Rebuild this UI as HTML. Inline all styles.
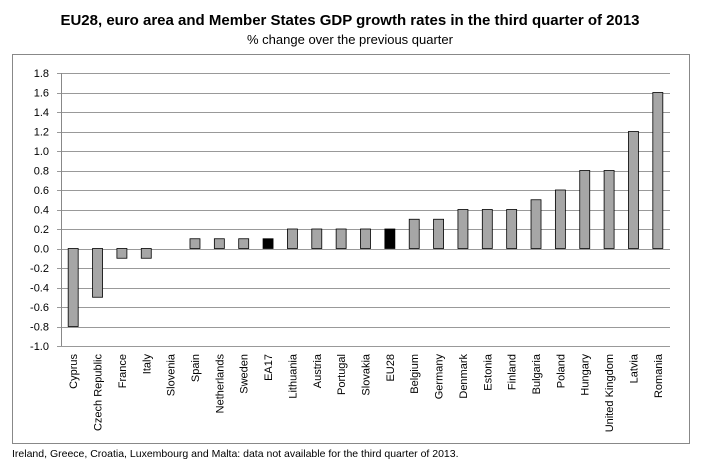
<!DOCTYPE html>
<html><head><meta charset="utf-8"><style>
body{margin:0;background:#fff;font-family:"Liberation Sans",sans-serif;}
</style></head><body>
<svg width="701" height="468" xmlns="http://www.w3.org/2000/svg">
<text x="350" y="25" text-anchor="middle" font-size="15" font-weight="bold">EU28, euro area and Member States GDP growth rates in the third quarter of 2013</text>
<text x="350" y="44" text-anchor="middle" font-size="13">% change over the previous quarter</text>
<rect x="12.5" y="54.5" width="677" height="389" fill="none" stroke="#888"/>
<g id="grid"></g><g id="bars"></g><g id="labels"></g>
<text x="12" y="457" font-size="10.5">Ireland, Greece, Croatia, Luxembourg and Malta: data not available for the third quarter of 2013.</text>
</svg>
<script>
const categories=["Cyprus","Czech Republic","France","Italy","Slovenia","Spain","Netherlands","Sweden","EA17","Lithuania","Austria","Portugal","Slovakia","EU28","Belgium","Germany","Denmark","Estonia","Finland","Bulgaria","Poland","Hungary","United Kingdom","Latvia","Romania"];
const values=[-0.8,-0.5,-0.1,-0.1,0.0,0.1,0.1,0.1,0.1,0.2,0.2,0.2,0.2,0.2,0.3,0.3,0.4,0.4,0.4,0.5,0.6,0.8,0.8,1.2,1.6];
const ticks=[1.8,1.6,1.4,1.2,1.0,0.8,0.6,0.4,0.2,0.0,-0.2,-0.4,-0.6,-0.8,-1.0];
const NS="http://www.w3.org/2000/svg";
const x0=61,x1=670,yTop=73,yBot=346,vMax=1.8,vMin=-1.0;
const y=v=>yTop+(vMax-v)/(vMax-vMin)*(yBot-yTop);
const slot=(x1-x0)/categories.length;
const cx=i=>x0+slot*(i+0.5);
function mk(t,a,p){const e=document.createElementNS(NS,t);for(const k in a)e.setAttribute(k,a[k]);p.appendChild(e);return e;}
const g=document.getElementById('grid');
ticks.forEach(t=>{
  const l=mk('line',{x1:x0-4,x2:x1,y1:Math.round(y(t))+0.5,y2:Math.round(y(t))+0.5,stroke:'#999'},g);
  
  
  const tx=mk('text',{x:49,y:y(t)+4,'text-anchor':'end','font-size':11},g);
  tx.textContent=t.toFixed(1);
  
  
});
const ax=mk('line',{x1:x0+0.5,x2:x0+0.5,y1:yTop,y2:yBot,stroke:'#888'},g);


const b=document.getElementById('bars'),lb=document.getElementById('labels');
categories.forEach((c,i)=>{
  const v=values[i];const hl=(c==="EA17"||c==="EU28");
  const top=Math.min(y(v),y(0)),h=Math.abs(y(v)-y(0));
  const r=mk('rect',{x:cx(i)-5,y:top,width:10,height:h,fill:hl?'#000':'#a6a6a6',stroke:'#000','stroke-width':0.8},b);
  
  
  const t=mk('text',{x:0,y:0,'text-anchor':'end','font-size':11,transform:`translate(${cx(i)+4},354) rotate(-90)`},lb);
  t.textContent=c;
  
  
});
</script>
</body></html>
